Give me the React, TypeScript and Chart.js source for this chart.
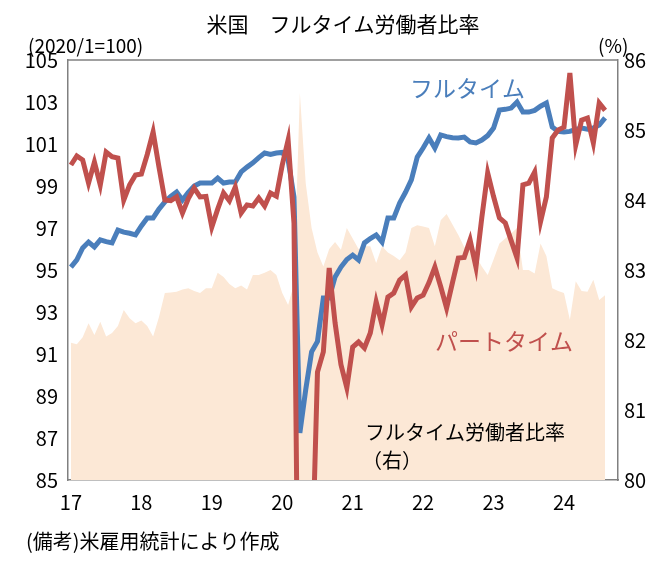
import React, { useEffect, useRef } from "react";
import { Chart, registerables } from "chart.js";
Chart.register(...registerables);

const yearLabels = ["17", "18", "19", "20", "21", "22", "23", "24"];
const fullTime = [95.14,95.48,96.05,96.33,96.1,96.43,96.35,96.29,96.9,96.8,96.75,96.67,97.1,97.48,97.48,97.9,98.24,98.5,98.71,98.33,98.7,99.0,99.14,99.14,99.14,99.38,99.14,99.19,99.19,99.67,99.9,100.1,100.35,100.57,100.5,100.57,100.6,100.24,98.48,87.24,89.3,91.1,91.6,93.67,93.67,94.67,95.14,95.5,95.71,95.48,96.29,96.5,96.67,96.33,97.48,97.48,98.19,98.7,99.29,100.38,100.81,101.29,100.81,101.43,101.35,101.3,101.29,101.33,101.1,101.05,101.19,101.4,101.76,102.62,102.65,102.71,103.0,102.52,102.52,102.6,102.8,102.95,101.81,101.6,101.57,101.6,101.7,101.76,101.7,101.76,101.9,102.24];
const partTime = [100.0,100.43,100.24,99.14,100.14,99.05,100.62,100.4,100.33,98.33,99.05,99.52,99.57,100.5,101.57,99.9,98.33,98.3,98.48,97.71,98.4,98.9,98.48,98.5,97.05,97.9,98.67,98.3,98.95,97.71,98.1,98.05,98.43,98.05,98.67,98.52,100.0,101.19,97.24,70,70,80,90.14,91.1,95.1,92.48,90.5,89.4,91.33,91.57,91.29,92.0,93.48,92.38,93.71,93.9,94.52,94.76,93.24,93.67,93.8,94.4,95.14,94.2,93.19,94.4,95.57,95.6,96.43,95.14,97.5,99.62,98.5,97.48,97.24,96.4,95.57,99.05,99.14,99.67,97.29,98.48,101.29,101.67,101.8,104.38,100.95,102.14,102.24,101.05,102.95,102.6];
const ratio = [81.96,81.94,82.04,82.24,82.07,82.26,82.05,82.1,82.2,82.43,82.31,82.24,82.28,82.2,82.05,82.33,82.67,82.68,82.69,82.72,82.74,82.7,82.67,82.74,82.74,82.96,82.9,82.8,82.74,82.78,82.72,82.93,82.93,82.96,83.0,82.93,82.67,82.5,82.8,85.53,84.24,83.6,83.25,83.05,83.3,83.4,83.29,83.6,83.45,83.3,83.34,83.34,83.1,83.34,83.25,83.2,83.14,83.25,83.6,83.64,83.62,83.6,83.34,83.71,83.8,83.65,83.5,83.33,83.3,83.2,83.05,82.93,83.15,83.38,83.45,83.52,83.6,83.0,83.0,82.95,83.38,83.2,82.74,82.7,82.67,82.29,82.84,82.7,82.69,82.86,82.57,82.64];

const FONT = "'Noto Sans CJK JP', sans-serif";
const pts = (arr: number[]) => arr.map((v, i) => ({ x: i, y: v }));

const textPlugin = {
  id: "texts",
  afterDraw(chart: any) {
    const c = chart.ctx;
    c.save();
    c.textBaseline = "middle";
    c.fillStyle = "#000";
    c.font = `21px ${FONT}`;
    c.textAlign = "center";
    c.fillText("米国　フルタイム労働者比率", 343, 24);
    c.font = `19px ${FONT}`;
    c.textAlign = "left";
    c.fillText("(2020/1=100)", 28, 46);
    c.fillText("(%)", 598, 46);
    c.font = `20px ${FONT}`;
    c.fillText("(備考)米雇用統計により作成", 26, 541);
    c.fillText("フルタイム労働者比率", 365, 432);
    c.fillText("（右）", 362, 460);
    c.font = `23px ${FONT}`;
    c.fillStyle = "#4a7ebb";
    c.fillText("フルタイム", 410, 88);
    c.fillStyle = "#c0504d";
    c.fillText("パートタイム", 435, 341);
    const a = chart.chartArea;
    c.strokeStyle = "#808080";
    c.lineWidth = 1.5;
    c.beginPath();
    c.moveTo(a.left, a.top);
    c.lineTo(a.right, a.top);
    c.stroke();
    c.restore();
  },
};

export default function App() {
  const ref = useRef<HTMLCanvasElement>(null);
  useEffect(() => {
    const chart = new Chart(ref.current!, {
      type: "line",
      data: {
        datasets: [
          { data: pts(partTime), borderColor: "#c0504d", borderWidth: 5, pointRadius: 0, yAxisID: "y", order: 1 },
          { data: pts(fullTime), borderColor: "#4a7ebb", borderWidth: 5, pointRadius: 0, yAxisID: "y", order: 2 },
          { data: pts(ratio), borderWidth: 0, borderColor: "rgba(0,0,0,0)", backgroundColor: "#fce8d6", fill: "start", pointRadius: 0, yAxisID: "y1", order: 3 },
        ] as any,
      },
      plugins: [textPlugin],
      options: {
        animation: false,
        responsive: false,
        layout: { padding: { top: 60, left: 0, right: 0, bottom: 0 } },
        plugins: { legend: { display: false }, tooltip: { enabled: false } },
        scales: {
          x: {
            type: "linear",
            min: -0.5,
            max: 93.2,
            afterBuildTicks: (s: any) => { s.ticks = yearLabels.map((_, i) => ({ value: i * 12 })); },
            afterFit: (s: any) => { s.height = 88; },
            ticks: { callback: (v: any) => yearLabels[Math.round(Number(v) / 12)], color: "#000", font: { family: FONT, size: 20 }, padding: 10, maxRotation: 0 },
            grid: { display: false, drawTicks: false },
            border: { color: "#808080", width: 1.5 },
          },
          y: {
            position: "left",
            min: 85,
            max: 105,
            afterFit: (s: any) => { s.width = 68; },
            afterBuildTicks: (s: any) => { const t = []; for (let v = 85; v <= 105; v += 2) t.push({ value: v }); s.ticks = t; },
            ticks: { color: "#000", font: { family: FONT, size: 20 }, padding: 4 },
            grid: { display: false, drawOnChartArea: false, drawTicks: true, tickLength: 6, color: "#808080" },
            border: { color: "#808080", width: 1.5 },
          },
          y1: {
            position: "right",
            min: 80,
            max: 86,
            afterFit: (s: any) => { s.width = 50; },
            ticks: { stepSize: 1, color: "#000", font: { family: FONT, size: 20 }, padding: 6 },
            grid: { display: false, drawTicks: false },
            border: { color: "#808080", width: 1.5 },
          },
        },
      } as any,
    });
    return () => chart.destroy();
  }, []);
  return (
    <div style={{ position: "absolute", left: 0, top: 0, width: 668, height: 568 }}>
      <canvas ref={ref} width={668} height={568} style={{ width: 668, height: 568 }} />
    </div>
  );
}
